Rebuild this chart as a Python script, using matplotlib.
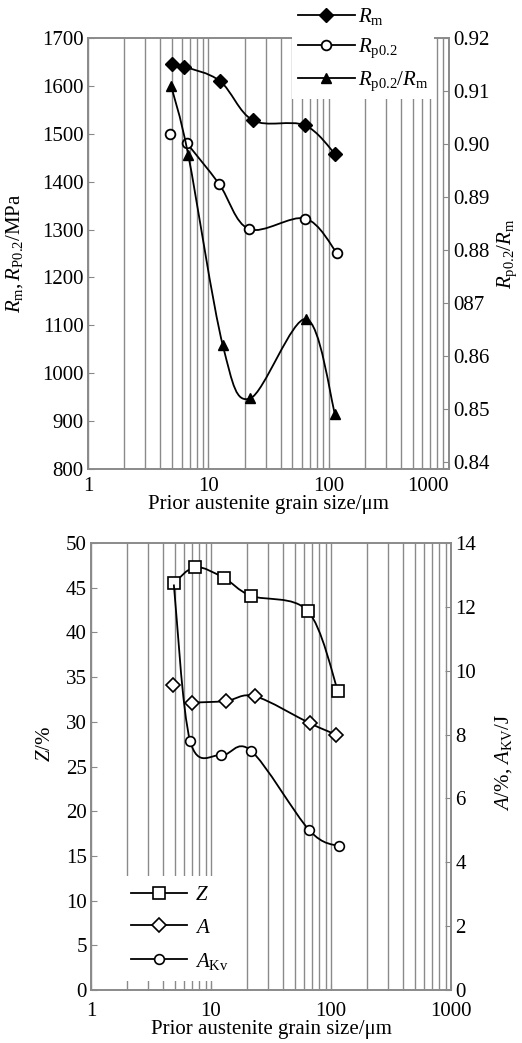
import numpy as np
import matplotlib
matplotlib.use("Agg")
import matplotlib.pyplot as plt
from matplotlib.path import Path
from matplotlib.patches import PathPatch
from matplotlib.lines import Line2D

plt.rcParams["font.family"] = ["Liberation Serif", "DejaVu Serif"]
plt.rcParams["mathtext.fontset"] = "custom"
plt.rcParams["mathtext.rm"] = "Liberation Serif"
plt.rcParams["mathtext.it"] = "Liberation Serif:italic"
plt.rcParams["font.size"] = 15

# upper panel: strength vs grain size
rm_x = [5.0, 6.3, 12.5, 23.5, 63, 113]
rm = [1645, 1640, 1610, 1528, 1518, 1458]
rp_x = [4.8, 6.6, 12.3, 21.8, 64, 117]
rp = [1500, 1481, 1395, 1301, 1323, 1251]
ratio_x = [4.9, 6.8, 13.2, 22.2, 65, 113]
ratio = [0.911, 0.898, 0.862, 0.852, 0.867, 0.849]

# lower panel: ductility / toughness vs grain size
z_x = [4.9, 7.4, 12.8, 21.5, 64, 114]
z = [45.5, 47.3, 46.1, 44.1, 42.4, 33.5]
a_x = [4.8, 6.9, 13.3, 23.3, 67, 110]
a = [9.55, 9.0, 9.05, 9.2, 8.35, 8.0]
akv_x = [4.9, 6.7, 12.1, 21.5, 66, 116]
akv = [12.7, 7.8, 7.35, 7.5, 5.0, 4.5]

x_ticks = [1, 10, 100, 1000]
x_ticklabels = ["1", "10", "100", "1000"]
ratio_ticks = [0.84, 0.85, 0.86, 0.87, 0.88, 0.89, 0.90, 0.91, 0.92]
ratio_ticklabels = ["0.84", "0.85", "0.86", "087", "0.88", "0.89", "0.90", "0.91", "0.92"]

GRID = "#8a8a8a"
LW = 1.3


def smooth(ax, xs, ys, start=0):
    # Catmull-Rom curve through the points, drawn as a bezier path in axes space
    to_ax = ax.transData + ax.transAxes.inverted()
    w, h = ax.bbox.width, ax.bbox.height
    pts = to_ax.transform(np.column_stack([xs[start:], ys[start:]])) * [w, h]
    p = np.vstack([pts[0], pts, pts[-1]])
    verts = [pts[0]]
    codes = [Path.MOVETO]
    for i in range(1, len(p) - 2):
        c1 = p[i] + (p[i + 1] - p[i - 1]) / 6
        c2 = p[i + 1] - (p[i + 2] - p[i]) / 6
        verts += [c1, c2, p[i + 1]]
        codes += [Path.CURVE4] * 3
    verts = np.array(verts) / [w, h]
    ax.add_patch(PathPatch(Path(verts, codes), fill=False, lw=LW, ec="k",
                           transform=ax.transAxes, zorder=3))


def style(ax, ax2, xpad):
    ax.set_xscale("log")
    ax.set_xlim(1, 1000)
    ax.set_xticks(x_ticks, x_ticklabels)
    ax.grid(True, which="both", axis="x", color=GRID, lw=1.0)
    ax.tick_params(which="minor", length=0)
    ax.tick_params(which="major", direction="in", length=4, color=GRID, pad=3)
    ax.tick_params(axis="x", pad=xpad)
    ax2.tick_params(which="major", direction="in", length=4, color=GRID, pad=3)
    for a_ in (ax, ax2):
        for s in a_.spines.values():
            s.set_color(GRID)
            s.set_linewidth(1.2)


fig = plt.figure(figsize=(5.22, 10.43), dpi=100)

# ---- upper panel ----
ax = fig.add_axes([88 / 522, 1 - 469 / 1043, 361 / 522, 431 / 1043])
ax2 = ax.twinx()
style(ax, ax2, 6)
ax.set_ylim(800, 1700)
ax.set_yticks(np.arange(800, 1701, 100))
ax2.set_ylim(0.8387, 0.92)
ax2.set_yticks(ratio_ticks, ratio_ticklabels)
ax.get_xticklabels()[-1].set_ha("right")

ax.plot(rm_x, rm, "D", color="k", ms=7, zorder=4)
ax.plot(rp_x, rp, "o", mfc="w", mec="k", mew=1.3, ms=7, zorder=4)
ax2.plot(ratio_x, ratio, "^", color="k", ms=7, zorder=4)
smooth(ax, rm_x, rm)
smooth(ax, rp_x, rp, start=1)
smooth(ax2, ratio_x, ratio)

ax.set_xlabel("Prior austenite grain size/\u03bcm")
ax.xaxis.set_label_coords(0.5, -0.06)
ax.set_ylabel(r"$R_{\mathrm{m}}, R_{\mathrm{P0.2}}$/MPa")
ax.yaxis.set_label_coords(-0.175, 0.5)
ax2.set_ylabel(r"$R_{\mathrm{p0.2}}/R_{\mathrm{m}}$")
ax2.yaxis.set_label_coords(1.128, 0.5)

h_top = [
    Line2D([], [], color="k", lw=LW, marker="D", ms=7),
    Line2D([], [], color="k", lw=LW, marker="o", mfc="w", mew=1.3, ms=7),
    Line2D([], [], color="k", lw=LW, marker="^", ms=7),
]
fig.legend(h_top, [r"$R_{\mathrm{m}}$", r"$R_{\mathrm{p0.2}}$", r"$R_{\mathrm{p0.2}}/R_{\mathrm{m}}$"],
           loc="upper left", bbox_to_anchor=(292 / 522, 1.0), frameon=True,
           facecolor="w", edgecolor="none", framealpha=1, fancybox=False,
           handlelength=2.7, handletextpad=0.15, labelspacing=0.45, borderpad=0.3,
           borderaxespad=0)

# ---- lower panel ----
bx = fig.add_axes([91 / 522, 1 - 990 / 1043, 360 / 522, 447 / 1043])
bx2 = bx.twinx()
style(bx, bx2, 9)
bx.set_ylim(0, 50)
bx.set_yticks(np.arange(0, 51, 5))
bx2.set_ylim(0, 14)
bx2.set_yticks(np.arange(0, 15, 2))

bx.plot(z_x, z, "s", mfc="w", mec="k", mew=1.2, ms=8, zorder=4)
bx2.plot(a_x, a, "D", mfc="w", mec="k", mew=1.2, ms=7.5, zorder=4)
# first toughness point sits under the first Z square, so its marker is not shown
bx2.plot(akv_x[1:], akv[1:], "o", mfc="w", mec="k", mew=1.2, ms=7, zorder=4)
smooth(bx, z_x, z)
smooth(bx2, a_x, a, start=1)
smooth(bx2, akv_x, akv)

bx.set_xlabel("Prior austenite grain size/\u03bcm")
bx.xaxis.set_label_coords(0.5, -0.068)
bx.set_ylabel("$Z$/%")
bx.yaxis.set_label_coords(-0.1, 0.55)
bx2.set_ylabel(r"$A$/%, $A_{\mathrm{KV}}$/J")
bx2.yaxis.set_label_coords(1.117, 0.51)

h_bot = [
    Line2D([], [], color="k", lw=LW, marker="s", mfc="w", mew=1.2, ms=8),
    Line2D([], [], color="k", lw=LW, marker="D", mfc="w", mew=1.2, ms=7.5),
    Line2D([], [], color="k", lw=LW, marker="o", mfc="w", mew=1.2, ms=7),
]
bx2.legend(h_bot, ["$Z$", "$A$", r"$A_{\mathrm{Kv}}$"],
           loc="lower left", bbox_to_anchor=(0.085, 0.02), frameon=True,
           facecolor="w", edgecolor="none", framealpha=1, fancybox=False,
           handlelength=2.7, handletextpad=0.35, labelspacing=0.62, borderpad=0.45,
           borderaxespad=0)

fig.savefig("out.png", dpi=100)
